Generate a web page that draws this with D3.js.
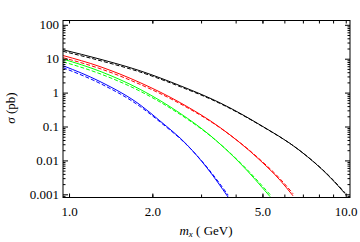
<!DOCTYPE html>
<html>
<head>
<meta charset="utf-8">
<script src="https://cdn.jsdelivr.net/npm/d3@7"></script>
<style>
  body { margin: 0; background: #fff; }
  svg { display: block; }
  text { font-family: "Liberation Serif", "DejaVu Serif", serif; fill: #000; }
</style>
</head>
<body>
<svg id="chart" width="360" height="242"></svg>
<script>
// masses (GeV) and cross sections (pb)
const blackMass   = [0.952, 1.294, 1.806, 2.52, 3.51, 4.90, 6.84, 8.77, 9.94];
const blackSolid  = [18.3, 9.7, 4.4, 1.6, 0.50, 0.112, 0.0192, 0.0032, 0.00105];
const blackDashed = [16.5, 8.8, 4.05, 1.5, 0.48, 0.110, 0.0192, 0.0033, 0.0011];

const redMass   = [0.952, 1.294, 1.806, 2.52, 3.51, 4.90, 5.79, 6.45];
const redSolid  = [12.4, 5.85, 1.97, 0.507, 0.094, 0.0101, 0.0026, 0.0009];
const redDashed = [10.7, 5.1, 1.75, 0.47, 0.092, 0.0106, 0.00286, 0.00104];

const greenMass   = [0.952, 1.294, 1.806, 2.52, 3.23, 4.15, 5.33];
const greenSolid  = [9.73, 4.25, 1.25, 0.245, 0.0553, 0.0083, 0.00085];
const greenDashed = [8.1, 3.6, 1.1, 0.228, 0.054, 0.0087, 0.00098];

const blueMass   = [0.952, 1.294, 1.806, 2.13, 2.67, 3.15, 3.76];
const blueSolid  = [6.2, 2.12, 0.436, 0.147, 0.0288, 0.00605, 0.00082];
const blueDashed = [5.4, 1.87, 0.39, 0.137, 0.0282, 0.00635, 0.00094];

const xTicks = [1, 2, 5, 10];
const xTickLabels = ["1.0", "2.0", "5.0", "10.0"];
const yTicks = [0.001, 0.01, 0.1, 1, 10, 100];
const yTickLabels = ["0.001", "0.01", "0.1", "1", "10", "100"];

const series = [
  {mass: blackMass, sigma: blackSolid,  color: "#000000", dash: null},
  {mass: blackMass, sigma: blackDashed, color: "#000000", dash: "4,2"},
  {mass: redMass,   sigma: redSolid,    color: "#ff0000", dash: null},
  {mass: redMass,   sigma: redDashed,   color: "#ff0000", dash: "4,2"},
  {mass: greenMass, sigma: greenSolid,  color: "#00ff00", dash: null},
  {mass: greenMass, sigma: greenDashed, color: "#00ff00", dash: "4,2"},
  {mass: blueMass,  sigma: blueSolid,   color: "#0000ff", dash: null},
  {mass: blueMass,  sigma: blueDashed,  color: "#0000ff", dash: "4,2"}
];

const plotL = 63, plotT = 20.5, plotR = 350, plotB = 197.5;

const svg = d3.select("#chart");

const x = d3.scaleLog().domain([0.951, 10.36]).range([plotL, plotR]);
const y = d3.scaleLog().domain([0.000805, 134]).range([plotB, plotT]);

// minor ticks
const xMinor = d3.range(2, 10);
const yMinor = [];
for (let e = -4; e <= 2; e++) {
  for (let m = 2; m <= 9; m++) {
    const v = m * Math.pow(10, e);
    if (v > y.domain()[0] && v < y.domain()[1]) yMinor.push(v);
  }
}

// clip
svg.append("clipPath").attr("id", "plot")
  .append("rect")
  .attr("x", plotL).attr("y", plotT)
  .attr("width", plotR - plotL).attr("height", plotB - plotT);

// curves
const line = d3.line()
  .x(d => x(d[0]))
  .y(d => y(d[1]))
  .curve(d3.curveMonotoneX);

svg.append("g").attr("clip-path", "url(#plot)")
  .selectAll("path")
  .data(series)
  .enter()
  .append("path")
  .attr("d", s => line(s.mass.map((m, i) => [m, s.sigma[i]])))
  .attr("fill", "none")
  .attr("stroke", s => s.color)
  .attr("stroke-width", 1)
  .attr("stroke-dasharray", s => s.dash);

// axes, ticks pointing inward
function tidy(g) {
  g.select(".domain").remove();
  g.selectAll("line").attr("stroke", "#000");
  g.selectAll("text").attr("font-size", 13).attr("font-family", "Liberation Serif, serif");
}

svg.append("g")
  .attr("transform", "translate(0," + plotB + ")")
  .call(d3.axisBottom(x).tickValues(xTicks).tickSize(-4).tickPadding(9)
    .tickFormat((d, i) => xTickLabels[i]))
  .call(tidy);

svg.append("g")
  .attr("transform", "translate(0," + plotB + ")")
  .call(d3.axisBottom(x).tickValues(xMinor).tickSize(-3).tickFormat(""))
  .call(tidy);

svg.append("g")
  .attr("transform", "translate(0," + plotT + ")")
  .call(d3.axisTop(x).tickValues(xTicks.concat(xMinor)).tickSize(-3).tickFormat(""))
  .call(tidy);

svg.append("g")
  .attr("transform", "translate(" + plotL + ",0)")
  .call(d3.axisLeft(y).tickValues(yTicks).tickSize(-5).tickPadding(4)
    .tickFormat((d, i) => yTickLabels[i]))
  .call(tidy);

svg.append("g")
  .attr("transform", "translate(" + plotL + ",0)")
  .call(d3.axisLeft(y).tickValues(yMinor).tickSize(-2.5).tickFormat(""))
  .call(tidy);

svg.append("g")
  .attr("transform", "translate(" + plotR + ",0)")
  .call(d3.axisRight(y).tickValues(yTicks).tickSize(-5).tickFormat(""))
  .call(tidy);

svg.append("g")
  .attr("transform", "translate(" + plotR + ",0)")
  .call(d3.axisRight(y).tickValues(yMinor).tickSize(-2.5).tickFormat(""))
  .call(tidy);

// frame
svg.append("rect")
  .attr("x", plotL).attr("y", plotT)
  .attr("width", plotR - plotL).attr("height", plotB - plotT)
  .attr("fill", "none")
  .attr("stroke", "#000")
  .attr("stroke-width", 1);

// axis titles
const xTitle = svg.append("text")
  .attr("x", 206).attr("y", 235)
  .attr("text-anchor", "middle")
  .attr("font-size", 13);
xTitle.append("tspan").attr("font-style", "italic").text("m");
xTitle.append("tspan").attr("font-style", "italic").attr("font-size", 9).attr("dy", 2).text("x");
xTitle.append("tspan").attr("dy", -2).text(" ( GeV)");

const yTitle = svg.append("text")
  .attr("transform", "translate(15,108) rotate(-90)")
  .attr("text-anchor", "middle")
  .attr("font-size", 13);
yTitle.append("tspan").attr("font-style", "italic").text("σ");
yTitle.append("tspan").text(" (pb)");
</script>
</body>
</html>
